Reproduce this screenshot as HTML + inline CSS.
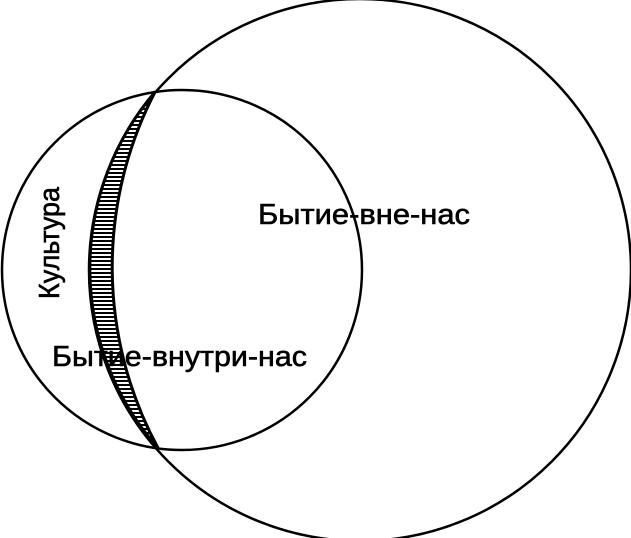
<!DOCTYPE html>
<html><head><meta charset="utf-8"><style>html,body{margin:0;padding:0;background:#fff}svg{display:block}</style></head>
<body>
<svg width="631" height="538" viewBox="0 0 631 538" xmlns="http://www.w3.org/2000/svg">
<defs>
<pattern id="h" width="10" height="4" patternUnits="userSpaceOnUse">
<rect x="0" y="0" width="10" height="2" fill="#000"/>
</pattern>
</defs>
<path d="M155,92 A271,271 0 0 0 158,448 A380,380 0 0 1 155,92 Z" fill="url(#h)" stroke="#000" stroke-width="3"/>
<circle cx="360" cy="270" r="271" fill="none" stroke="#000" stroke-width="2.5"/>
<circle cx="182" cy="270" r="180" fill="none" stroke="#000" stroke-width="2.5"/>
<g font-family="Liberation Sans, DejaVu Sans, sans-serif" font-size="29" fill="#000" stroke="#000" stroke-width="0.6">
<text x="258" y="224" textLength="212" lengthAdjust="spacingAndGlyphs">Бытие-вне-нас</text>
<text x="52" y="366" textLength="255" lengthAdjust="spacingAndGlyphs">Бытие-внутри-нас</text>
<text transform="translate(59,299) rotate(-90)" textLength="112" lengthAdjust="spacingAndGlyphs">Культура</text>
</g>
</svg>
</body></html>
